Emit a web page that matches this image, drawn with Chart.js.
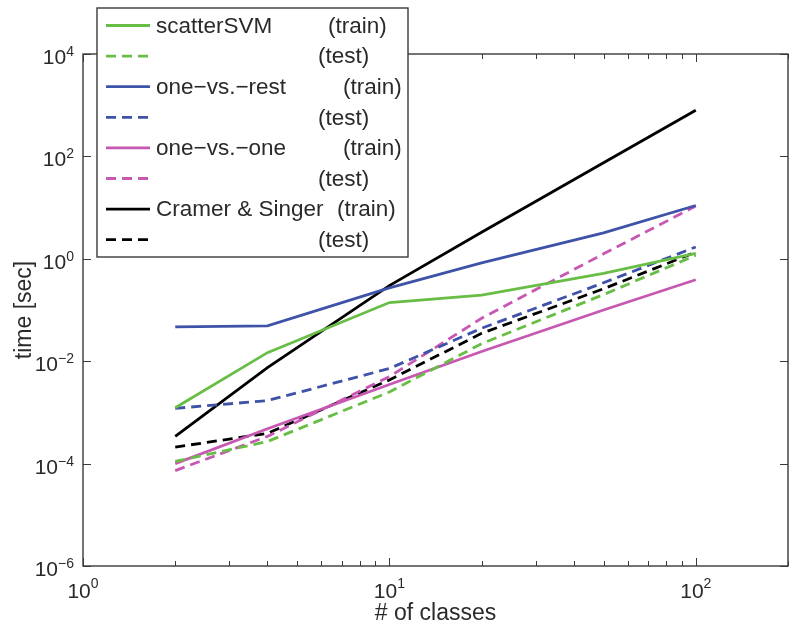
<!DOCTYPE html>
<html lang="en">
<head>
  <meta charset="UTF-8">
  <title>Training / test time vs. number of classes</title>
  <script src="https://cdn.jsdelivr.net/npm/chart.js"></script>
  <style>
   body { margin: 0; background: #fff; }
   canvas { display: block; }
  </style>
</head>
<body>
  <canvas id="myChart" width="796" height="630"></canvas>
  <script>
    // values
    const classes      = [2, 4, 10, 20, 50, 100];
    const scatterTrain = [0.00123, 0.0147, 0.14, 0.196, 0.52, 1.28];
    const scatterTest  = [0.00011, 0.00027, 0.0025, 0.022, 0.2, 1.17];
    const ovrTrain     = [0.047, 0.049, 0.27, 0.83, 3.2, 11];
    const ovrTest      = [0.0012, 0.0017, 0.0072, 0.044, 0.34, 1.7];
    const ovoTrain     = [0.0001, 0.00048, 0.0035, 0.0155, 0.1, 0.39];
    const ovoTest      = [0.000073, 0.00034, 0.005, 0.069, 1.25, 10.7];
    const csTrain      = [0.00034, 0.0075, 0.3, 3.3, 75, 800];
    const csTest       = [0.00021, 0.00039, 0.0043, 0.035, 0.26, 1.35];

    const yTickExp = [-6, -4, -2, 0, 2, 4];
    const xTickExp = [0, 1, 2];

    const GREEN = 'rgb(104,189,69)', BLUE = 'rgb(62,82,168)', MAGENTA = 'rgb(199,88,178)', BLACK = '#000';
    const DASH = [10, 6];
    const FONT = '"Liberation Sans", Arial, Helvetica, sans-serif';
    const TXT = '#2a2a2a';

    function pts(ys) { return classes.map((c, i) => ({ x: c, y: ys[i] })); }
    function ds(name, tag, ys, color, dashed) {
      return { label: name + ' ' + tag, name: name, tag: tag, data: pts(ys),
               borderColor: color, borderWidth: 2.8, borderDash: dashed ? DASH : [],
               pointRadius: 0, tension: 0, fill: false };
    }

    // legend rows: where "(train)"/"(test)" start
    const tagX = { train: [328, 343, 343, 337], test: 318 };

    const boxPlugin = {
      id: 'matlabBox',
      afterDraw(chart) {
        const ctx = chart.ctx, a = chart.chartArea, xs = chart.scales.x, ys = chart.scales.y;
        ctx.save();
        // axes box
        ctx.strokeStyle = '#3a3a3a'; ctx.lineWidth = 1.4;
        ctx.strokeRect(a.left, a.top, a.right - a.left, a.bottom - a.top);
        // x ticks (inward, bottom and top)
        ctx.beginPath();
        xTickExp.forEach(e => {
          for (let m = 1; m <= 9; m++) {
            const v = m * Math.pow(10, e);
            if (v > xs.max) break;
            const px = Math.round(xs.getPixelForValue(v)) + 0.5, len = m === 1 ? 8 : 5;
            ctx.moveTo(px, a.bottom); ctx.lineTo(px, a.bottom - len);
            ctx.moveTo(px, a.top);    ctx.lineTo(px, a.top + len);
          }
        });
        yTickExp.forEach(e => {
          const py = Math.round(ys.getPixelForValue(Math.pow(10, e))) + 0.5;
          ctx.moveTo(a.left, py);  ctx.lineTo(a.left + 8, py);
          ctx.moveTo(a.right, py); ctx.lineTo(a.right - 8, py);
        });
        ctx.lineWidth = 1; ctx.stroke();

        // tick labels 10^e
        ctx.fillStyle = TXT;
        const base = '21px ' + FONT, sup = '14px ' + FONT;
        function power(e) { return (e < 0 ? '\u2212' : '') + Math.abs(e); }
        xTickExp.forEach(e => {
          const px = xs.getPixelForValue(Math.pow(10, e));
          ctx.font = base; const w1 = ctx.measureText('10').width;
          ctx.font = sup;  const w2 = ctx.measureText(power(e)).width;
          const x0 = px - (w1 + w2) / 2;
          ctx.textAlign = 'left'; ctx.textBaseline = 'alphabetic';
          ctx.font = base; ctx.fillText('10', x0, 598);
          ctx.font = sup;  ctx.fillText(power(e), x0 + w1, 588);
        });
        yTickExp.forEach(e => {
          const py = ys.getPixelForValue(Math.pow(10, e));
          ctx.font = sup;  const w2 = ctx.measureText(power(e)).width;
          ctx.font = base; const w1 = ctx.measureText('10').width;
          const x1 = a.left - 9;
          ctx.textAlign = 'left'; ctx.textBaseline = 'alphabetic';
          ctx.font = base; ctx.fillText('10', x1 - w2 - w1, py + 10);
          ctx.font = sup;  ctx.fillText(power(e), x1 - w2, py + 2);
        });

        // axis titles
        ctx.font = '23px ' + FONT; ctx.textAlign = 'center';
        ctx.fillText('# of classes', (a.left + a.right) / 2, 620);
        ctx.save();
        ctx.translate(31, (a.top + a.bottom) / 2); ctx.rotate(-Math.PI / 2);
        ctx.textBaseline = 'alphabetic';
        ctx.fillText('time [sec]', 0, 0);
        ctx.restore();

        // legend box
        ctx.fillStyle = '#fff';
        ctx.fillRect(97, 8, 311, 249);
        ctx.strokeStyle = '#3a3a3a'; ctx.lineWidth = 1.4;
        ctx.strokeRect(97, 8, 311, 249);
        ctx.font = '22.5px ' + FONT; ctx.textAlign = 'left'; ctx.textBaseline = 'middle';
        let trainRow = 0;
        chart.data.datasets.forEach((d, i) => {
          const y = 25.5 + i * 30.6;
          ctx.beginPath();
          ctx.strokeStyle = d.borderColor; ctx.lineWidth = 2.8;
          ctx.setLineDash(d.borderDash);
          ctx.moveTo(106, y); ctx.lineTo(150, y); ctx.stroke();
          ctx.setLineDash([]);
          ctx.fillStyle = TXT;
          if (d.tag === '(train)') {
            ctx.fillText(d.name, 156, y + 1);
            ctx.fillText(d.tag, tagX.train[trainRow++], y + 1);
          } else {
            ctx.fillText(d.tag, tagX.test, y + 1);
          }
        });
        ctx.restore();
      }
    };

    const ctx = document.getElementById('myChart').getContext('2d');
    const myChart = new Chart(ctx, {
      type: 'line',
      data: {
        datasets: [
          ds('scatterSVM', '(train)', scatterTrain, GREEN, false),
          ds('scatterSVM', '(test)', scatterTest, GREEN, true),
          ds('one\u2212vs.\u2212rest', '(train)', ovrTrain, BLUE, false),
          ds('one\u2212vs.\u2212rest', '(test)', ovrTest, BLUE, true),
          ds('one\u2212vs.\u2212one', '(train)', ovoTrain, MAGENTA, false),
          ds('one\u2212vs.\u2212one', '(test)', ovoTest, MAGENTA, true),
          ds('Cramer & Singer', '(train)', csTrain, BLACK, false),
          ds('Cramer & Singer', '(test)', csTest, BLACK, true)
        ]
      },
      options: {
        responsive: false,
        animation: false,
        layout: { padding: { left: 83, right: 8, top: 54, bottom: 64 } },
        scales: {
          x: { type: 'logarithmic', min: 1, max: 200, display: false },
          y: { type: 'logarithmic', min: 1e-6, max: 1e4, display: false }
        },
        plugins: { legend: { display: false }, tooltip: { enabled: false } }
      },
      plugins: [boxPlugin]
    });
  </script>
</body>
</html>
